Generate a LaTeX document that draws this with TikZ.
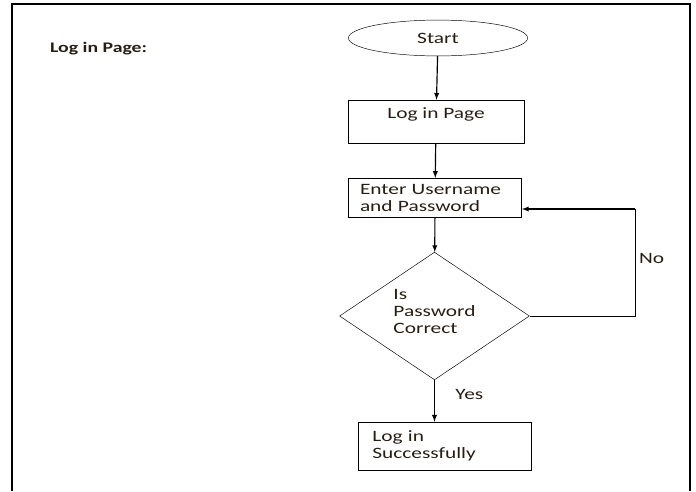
\documentclass[tikz,border=0pt]{standalone}
\usepackage{fontspec}
\setmainfont[FakeStretch=1.35]{Carlito}
\usetikzlibrary{shapes.geometric}
\definecolor{textbrown}{RGB}{40, 30, 20}

\begin{document}
\begin{tikzpicture}[x=0.03cm, y=-0.03cm,
    every node/.style={font=\fontsize{13.5}{14.5}\selectfont, text=textbrown},
    startnode/.style={ellipse, draw, minimum width=153pt, minimum height=30.6pt, inner sep=0pt},
    stepbox/.style={rectangle, draw, align=left, inner ysep=4pt},
    decision/.style={diamond, draw, aspect=1.5, minimum width=162pt, minimum height=109pt, inner sep=0pt, align=left},
    link/.style={-latex, line width=1pt}]
    \useasboundingbox (0,0) rectangle (696,491);

    % Frame
    \draw[line width=2pt] (12,491) -- (12,4) -- (690,4) -- (690,491);

    % Title
    \node[anchor=west, font=\fontsize{12.5}{14}\selectfont\bfseries] (title) at (46,49) {Log in Page:};

    % Flow
    \node[startnode] (start) at (438,38) {Start};
    \node[stepbox, minimum width=150pt, minimum height=36.6pt, text depth=14pt] (page) at (436,121.5) {Log in Page};
    \node[stepbox, text width=128pt, inner xsep=10pt, minimum height=33pt] (enter) at (435,197.5) {Enter Username\\and Password};
    \node[decision, text depth=8pt] (check) at (434.5,316) {Is\\Password\\Correct};
    \node[stepbox, text width=124pt, inner xsep=12pt, minimum height=41pt] (done) at (445,446) {Log in\\Successfully};

    % Corner of the loop
    \coordinate (back) at (635,209);

    % Connections
    \draw[link] (start) -- (page);
    \draw[link] (page) -- (enter);
    \draw[link] (enter) -- (check);
    \draw[link] (check.south) -- node[right=14pt, pos=0.35] {Yes} (check.south |- done.north);
    \draw (check.east) -| node[right, pos=0.77] {No} (back);
    \draw[link] (back) -- (enter.east |- back);
\end{tikzpicture}
\end{document}
